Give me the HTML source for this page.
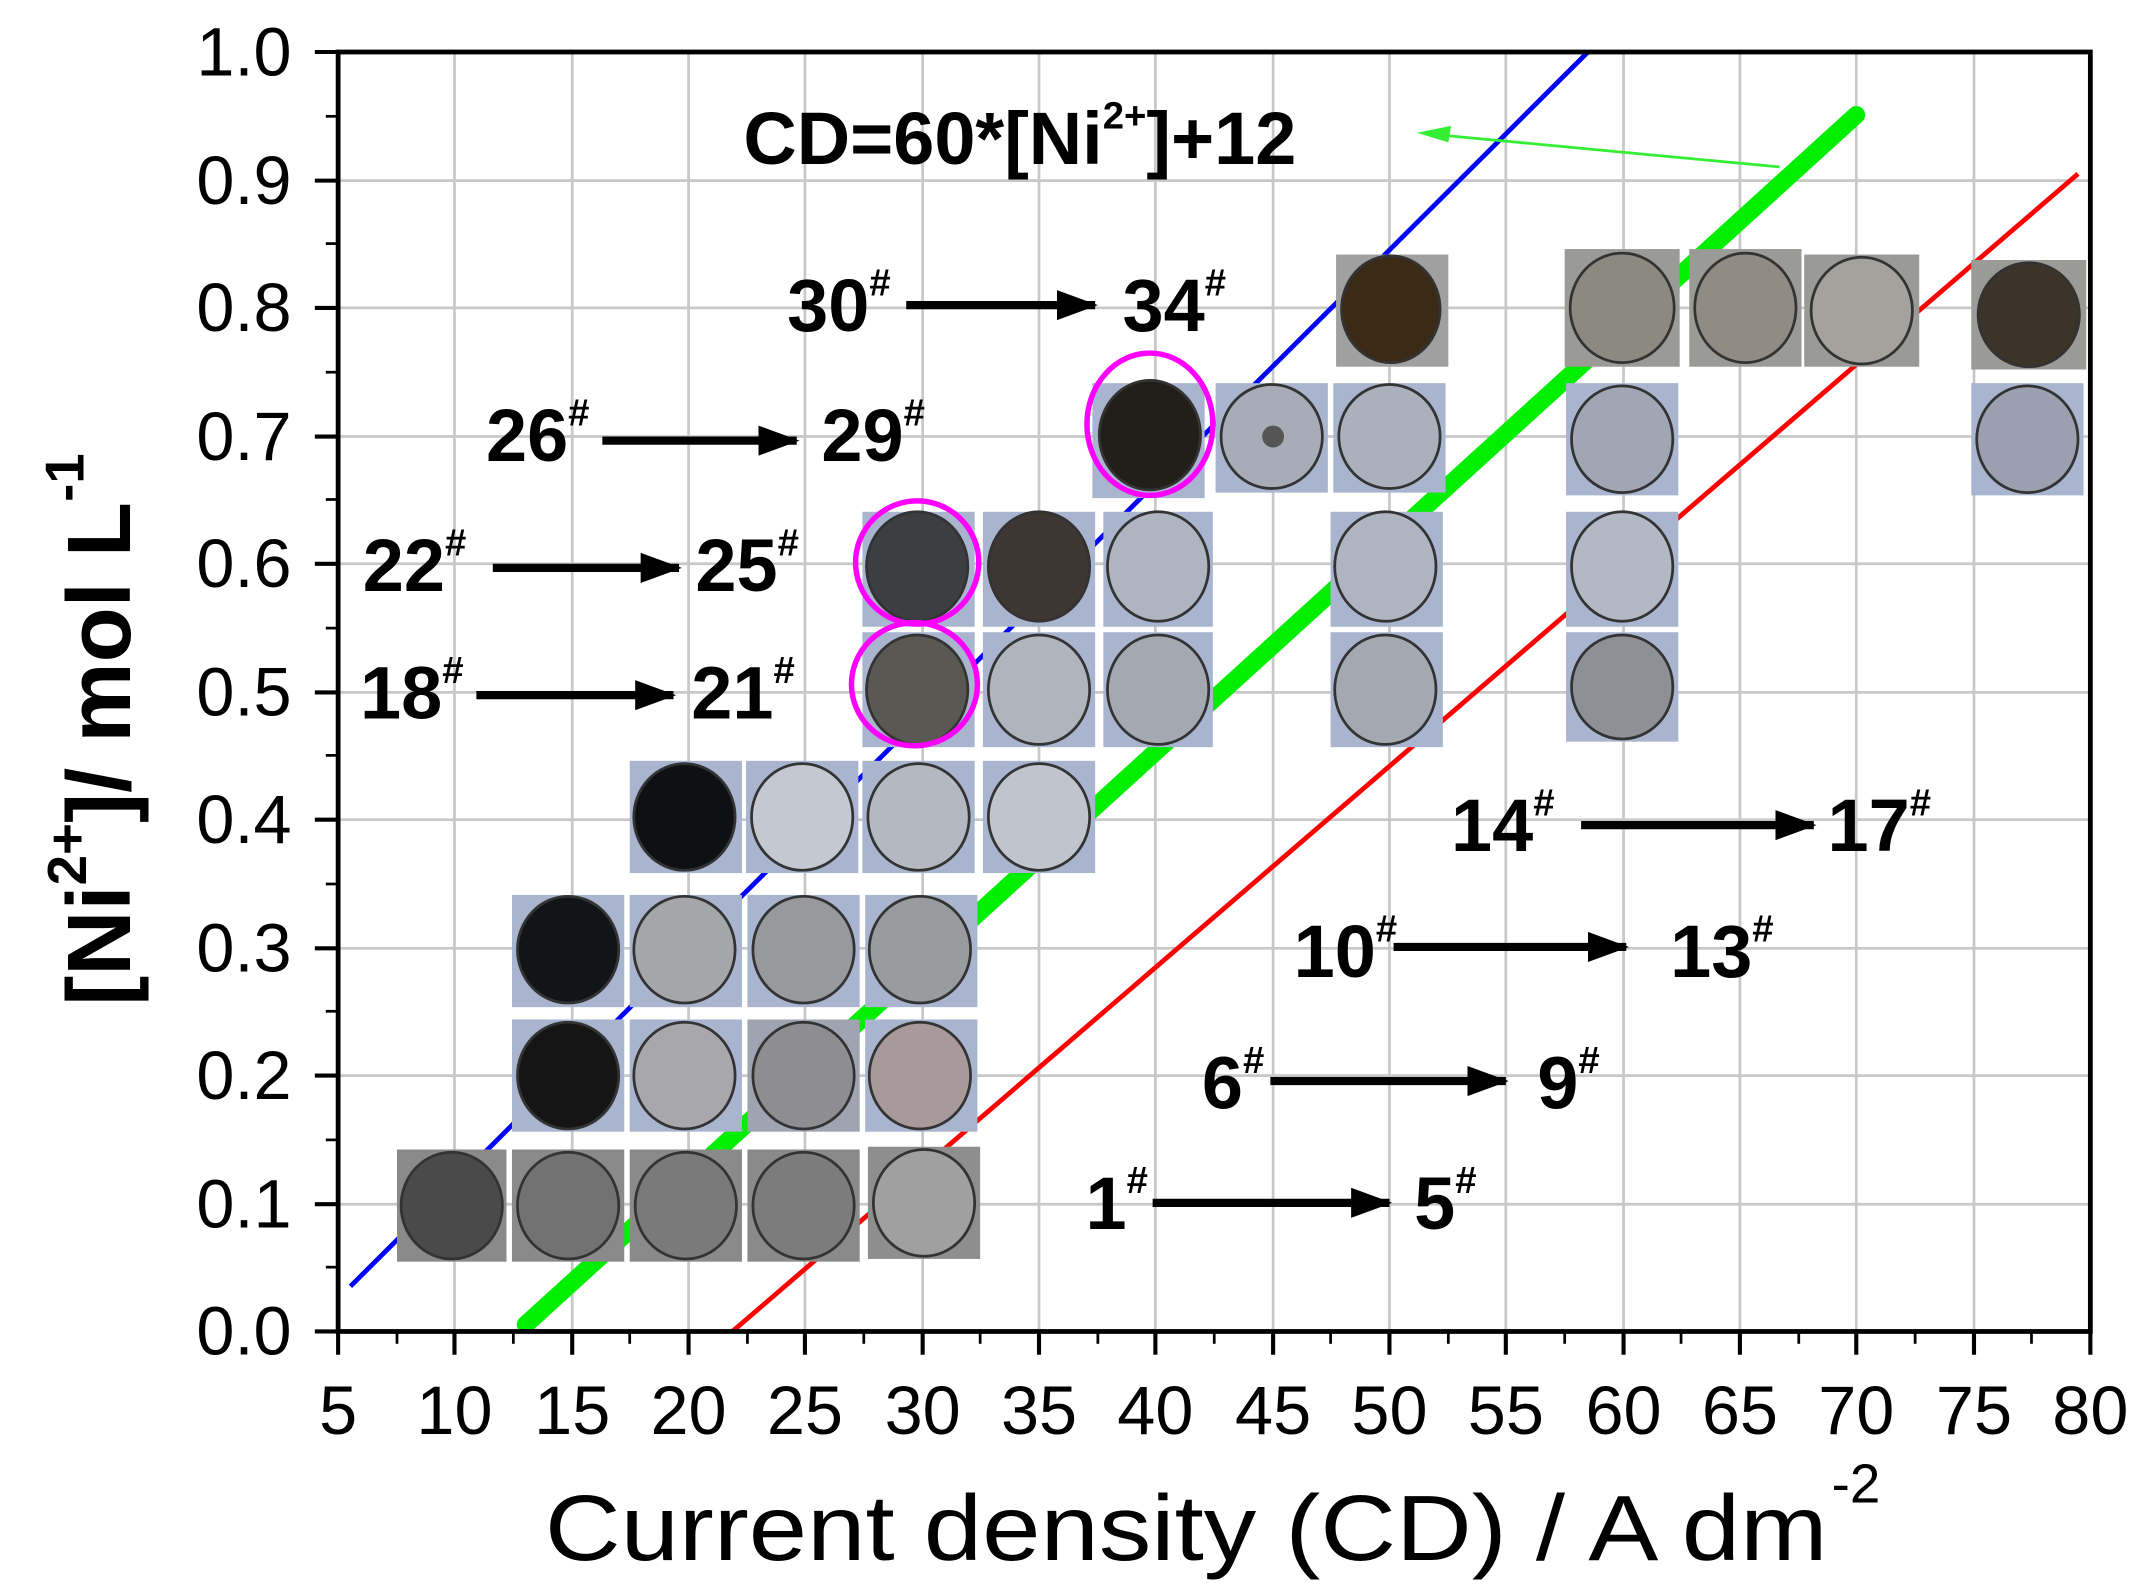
<!DOCTYPE html>
<html><head><meta charset="utf-8"><style>
html,body{margin:0;padding:0;background:#fff;width:2141px;height:1586px;overflow:hidden}
svg{display:block}
text{font-family:"Liberation Sans",sans-serif}
.b{font-weight:bold;font-size:54px}
.s{font-size:28px;font-weight:bold}
</style></head><body>
<svg width="2141" height="1586" viewBox="0 0 1564 1159" preserveAspectRatio="none" xmlns="http://www.w3.org/2000/svg">
<defs>
<marker id="ah" markerWidth="30" markerHeight="22" refX="28" refY="11" orient="auto" markerUnits="userSpaceOnUse" viewBox="0 0 30 22"><path d="M0,0 L30,11 L0,22z" fill="#000"/></marker>
</defs>
<g stroke="#c8c8c8" stroke-width="2">
<line x1="332" y1="38" x2="332" y2="973"/><line x1="418" y1="38" x2="418" y2="973"/><line x1="503" y1="38" x2="503" y2="973"/><line x1="588" y1="38" x2="588" y2="973"/><line x1="674" y1="38" x2="674" y2="973"/><line x1="759" y1="38" x2="759" y2="973"/><line x1="844" y1="38" x2="844" y2="973"/><line x1="930" y1="38" x2="930" y2="973"/><line x1="1015" y1="38" x2="1015" y2="973"/><line x1="1100" y1="38" x2="1100" y2="973"/><line x1="1186" y1="38" x2="1186" y2="973"/><line x1="1271" y1="38" x2="1271" y2="973"/><line x1="1356" y1="38" x2="1356" y2="973"/><line x1="1442" y1="38" x2="1442" y2="973"/>
<line x1="247" y1="132" x2="1527" y2="132"/><line x1="247" y1="225" x2="1527" y2="225"/><line x1="247" y1="319" x2="1527" y2="319"/><line x1="247" y1="412" x2="1527" y2="412"/><line x1="247" y1="506" x2="1527" y2="506"/><line x1="247" y1="599" x2="1527" y2="599"/><line x1="247" y1="693" x2="1527" y2="693"/><line x1="247" y1="786" x2="1527" y2="786"/><line x1="247" y1="880" x2="1527" y2="880"/>
</g>
<line x1="256" y1="940" x2="1160" y2="38" stroke="#0000ff" stroke-width="3.5"/>
<line x1="384" y1="968" x2="1356" y2="84" stroke="#00ee00" stroke-width="13" stroke-linecap="round"/>
<line x1="535" y1="973" x2="1518" y2="127" stroke="#ff0000" stroke-width="3.5"/>
<line x1="1300" y1="122" x2="1045" y2="98" stroke="#33ee33" stroke-width="2"/>
<path d="M1035,97 L1060,92 L1058,104z" fill="#33ee33"/>
<g stroke="#333" stroke-width="2">
<rect x="290" y="840" width="80" height="82" fill="#8a8a8a" stroke="none"/><ellipse cx="330" cy="881" rx="37" ry="39" fill="#4a4a4a"/>
<rect x="374" y="840" width="82" height="82" fill="#8a8a8a" stroke="none"/><ellipse cx="415" cy="881" rx="37" ry="39" fill="#727272"/>
<rect x="460" y="840" width="82" height="82" fill="#8a8a8a" stroke="none"/><ellipse cx="501" cy="881" rx="37" ry="39" fill="#7a7a7a"/>
<rect x="546" y="840" width="82" height="82" fill="#8a8a8a" stroke="none"/><ellipse cx="587" cy="881" rx="37" ry="39" fill="#7c7c7c"/>
<rect x="634" y="838" width="82" height="82" fill="#8e8e8e" stroke="none"/><ellipse cx="675" cy="879" rx="37" ry="39" fill="#a0a0a0"/>
<rect x="374" y="745" width="82" height="82" fill="#a9b4cf" stroke="none"/><ellipse cx="415" cy="786" rx="37" ry="39" fill="#151515"/>
<rect x="460" y="745" width="82" height="82" fill="#a9b4cf" stroke="none"/><ellipse cx="500" cy="786" rx="37" ry="39" fill="#a8a8ac"/>
<rect x="546" y="745" width="82" height="82" fill="#a0a4b0" stroke="none"/><ellipse cx="587" cy="786" rx="37" ry="39" fill="#8e8e90"/>
<rect x="632" y="745" width="82" height="82" fill="#a9b4cf" stroke="none"/><ellipse cx="672" cy="786" rx="37" ry="39" fill="#a89a9a"/>
<rect x="374" y="654" width="82" height="82" fill="#a9b4cf" stroke="none"/><ellipse cx="415" cy="694" rx="37" ry="39" fill="#121418"/>
<rect x="460" y="654" width="82" height="82" fill="#a9b4cf" stroke="none"/><ellipse cx="500" cy="694" rx="37" ry="39" fill="#a5a6aa"/>
<rect x="546" y="654" width="82" height="82" fill="#a9b4cf" stroke="none"/><ellipse cx="587" cy="694" rx="37" ry="39" fill="#98999c"/>
<rect x="632" y="654" width="82" height="82" fill="#a9b4cf" stroke="none"/><ellipse cx="672" cy="694" rx="37" ry="39" fill="#9a9b9e"/>
<rect x="460" y="556" width="82" height="82" fill="#a9b4cf" stroke="none"/><ellipse cx="500" cy="597" rx="37" ry="39" fill="#0e1014"/>
<rect x="545" y="556" width="82" height="82" fill="#a9b4cf" stroke="none"/><ellipse cx="586" cy="597" rx="37" ry="39" fill="#c4c8d0"/>
<rect x="630" y="556" width="82" height="82" fill="#a9b4cf" stroke="none"/><ellipse cx="671" cy="597" rx="37" ry="39" fill="#b4b8c0"/>
<rect x="718" y="556" width="82" height="82" fill="#a9b4cf" stroke="none"/><ellipse cx="759" cy="597" rx="37" ry="39" fill="#c0c4cc"/>
<rect x="630" y="462" width="82" height="84" fill="#a9b4cf" stroke="none"/><ellipse cx="670" cy="504" rx="37" ry="40" fill="#5a5852"/>
<rect x="718" y="462" width="82" height="84" fill="#a9b4cf" stroke="none"/><ellipse cx="759" cy="504" rx="37" ry="40" fill="#b0b4bc"/>
<rect x="806" y="462" width="80" height="84" fill="#a9b4cf" stroke="none"/><ellipse cx="846" cy="504" rx="37" ry="40" fill="#a4a8b0"/>
<rect x="972" y="462" width="82" height="84" fill="#a9b4cf" stroke="none"/><ellipse cx="1012" cy="504" rx="37" ry="40" fill="#a4a8b0"/>
<rect x="1144" y="462" width="82" height="80" fill="#a9b4cf" stroke="none"/><ellipse cx="1185" cy="502" rx="37" ry="38" fill="#8e9096"/>
<rect x="630" y="374" width="82" height="84" fill="#a9b4cf" stroke="none"/><ellipse cx="670" cy="414" rx="37" ry="40" fill="#3c3e42"/>
<rect x="718" y="374" width="82" height="84" fill="#a9b4cf" stroke="none"/><ellipse cx="759" cy="414" rx="37" ry="40" fill="#3e3632"/>
<rect x="806" y="374" width="80" height="84" fill="#a9b4cf" stroke="none"/><ellipse cx="846" cy="414" rx="37" ry="40" fill="#aeb4c0"/>
<rect x="972" y="374" width="82" height="84" fill="#a9b4cf" stroke="none"/><ellipse cx="1012" cy="414" rx="37" ry="40" fill="#aeb4c0"/>
<rect x="1144" y="374" width="82" height="84" fill="#a9b4cf" stroke="none"/><ellipse cx="1185" cy="414" rx="37" ry="40" fill="#b2b8c4"/>
<rect x="798" y="280" width="82" height="84" fill="#a9b4cf" stroke="none"/><ellipse cx="840" cy="318" rx="37" ry="40" fill="#221f1a"/>
<rect x="888" y="280" width="82" height="80" fill="#a9b4cf" stroke="none"/><ellipse cx="929" cy="319" rx="37" ry="38" fill="#a8acb6"/><circle cx="930" cy="319" r="8" fill="#555" stroke="none"/>
<rect x="974" y="280" width="82" height="80" fill="#a9b4cf" stroke="none"/><ellipse cx="1015" cy="319" rx="37" ry="38" fill="#aab0bc"/>
<rect x="1144" y="280" width="82" height="82" fill="#a9b4cf" stroke="none"/><ellipse cx="1185" cy="321" rx="37" ry="39" fill="#a0a6b4"/>
<rect x="1440" y="280" width="82" height="82" fill="#a9b4cf" stroke="none"/><ellipse cx="1481" cy="321" rx="37" ry="39" fill="#9aa0b0"/>
<rect x="976" y="186" width="82" height="82" fill="#a0a0a0" stroke="none"/><ellipse cx="1016" cy="226" rx="36" ry="39" fill="#3a2a16"/>
<rect x="1143" y="182" width="84" height="86" fill="#9a9a96" stroke="none"/><ellipse cx="1185" cy="225" rx="38" ry="40" fill="#8c8a80"/>
<rect x="1234" y="182" width="82" height="86" fill="#9a9a96" stroke="none"/><ellipse cx="1275" cy="225" rx="37" ry="40" fill="#908c84"/>
<rect x="1318" y="186" width="84" height="82" fill="#9a9a96" stroke="none"/><ellipse cx="1360" cy="227" rx="37" ry="39" fill="#a4a29c"/>
<rect x="1440" y="190" width="84" height="80" fill="#9a9a96" stroke="none"/><ellipse cx="1482" cy="230" rx="37" ry="38" fill="#3c3428"/>
</g>
<g fill="none" stroke="#ff00ff" stroke-width="4">
<ellipse cx="840" cy="310" rx="46" ry="52"/>
<ellipse cx="670" cy="411" rx="45" ry="45"/>
<ellipse cx="668" cy="500" rx="46" ry="45"/>
</g>
<rect x="247" y="38" width="1280" height="935" fill="none" stroke="#000" stroke-width="3.5"/>
<g stroke="#000" stroke-width="3">
<line x1="247" y1="973" x2="247" y2="990"/><line x1="332" y1="973" x2="332" y2="990"/><line x1="418" y1="973" x2="418" y2="990"/><line x1="503" y1="973" x2="503" y2="990"/><line x1="588" y1="973" x2="588" y2="990"/><line x1="674" y1="973" x2="674" y2="990"/><line x1="759" y1="973" x2="759" y2="990"/><line x1="844" y1="973" x2="844" y2="990"/><line x1="930" y1="973" x2="930" y2="990"/><line x1="1015" y1="973" x2="1015" y2="990"/><line x1="1100" y1="973" x2="1100" y2="990"/><line x1="1186" y1="973" x2="1186" y2="990"/><line x1="1271" y1="973" x2="1271" y2="990"/><line x1="1356" y1="973" x2="1356" y2="990"/><line x1="1442" y1="973" x2="1442" y2="990"/><line x1="1527" y1="973" x2="1527" y2="990"/>
<line x1="230" y1="38" x2="247" y2="38"/><line x1="230" y1="132" x2="247" y2="132"/><line x1="230" y1="225" x2="247" y2="225"/><line x1="230" y1="319" x2="247" y2="319"/><line x1="230" y1="412" x2="247" y2="412"/><line x1="230" y1="506" x2="247" y2="506"/><line x1="230" y1="599" x2="247" y2="599"/><line x1="230" y1="693" x2="247" y2="693"/><line x1="230" y1="786" x2="247" y2="786"/><line x1="230" y1="880" x2="247" y2="880"/><line x1="230" y1="973" x2="247" y2="973"/>
</g>
<g stroke="#000" stroke-width="2">
<line x1="290" y1="973" x2="290" y2="982"/><line x1="375" y1="973" x2="375" y2="982"/><line x1="460" y1="973" x2="460" y2="982"/><line x1="546" y1="973" x2="546" y2="982"/><line x1="631" y1="973" x2="631" y2="982"/><line x1="716" y1="973" x2="716" y2="982"/><line x1="802" y1="973" x2="802" y2="982"/><line x1="887" y1="973" x2="887" y2="982"/><line x1="972" y1="973" x2="972" y2="982"/><line x1="1058" y1="973" x2="1058" y2="982"/><line x1="1143" y1="973" x2="1143" y2="982"/><line x1="1228" y1="973" x2="1228" y2="982"/><line x1="1314" y1="973" x2="1314" y2="982"/><line x1="1399" y1="973" x2="1399" y2="982"/><line x1="1484" y1="973" x2="1484" y2="982"/>
<line x1="238" y1="85" x2="247" y2="85"/><line x1="238" y1="178" x2="247" y2="178"/><line x1="238" y1="272" x2="247" y2="272"/><line x1="238" y1="365" x2="247" y2="365"/><line x1="238" y1="459" x2="247" y2="459"/><line x1="238" y1="552" x2="247" y2="552"/><line x1="238" y1="646" x2="247" y2="646"/><line x1="238" y1="739" x2="247" y2="739"/><line x1="238" y1="833" x2="247" y2="833"/><line x1="238" y1="926" x2="247" y2="926"/>
</g>
<g font-size="50" text-anchor="middle" fill="#000">
<text x="247" y="1048">5</text><text x="332" y="1048">10</text><text x="418" y="1048">15</text><text x="503" y="1048">20</text><text x="588" y="1048">25</text><text x="674" y="1048">30</text><text x="759" y="1048">35</text><text x="844" y="1048">40</text><text x="930" y="1048">45</text><text x="1015" y="1048">50</text><text x="1100" y="1048">55</text><text x="1186" y="1048">60</text><text x="1271" y="1048">65</text><text x="1356" y="1048">70</text><text x="1442" y="1048">75</text><text x="1527" y="1048">80</text>
</g>
<g font-size="50" text-anchor="end" fill="#000">
<text x="213" y="55">1.0</text><text x="213" y="149">0.9</text><text x="213" y="242">0.8</text><text x="213" y="336">0.7</text><text x="213" y="429">0.6</text><text x="213" y="523">0.5</text><text x="213" y="616">0.4</text><text x="213" y="710">0.3</text><text x="213" y="803">0.2</text><text x="213" y="897">0.1</text><text x="213" y="990">0.0</text>
</g>
<text x="398" y="1140" font-size="68" textLength="937" lengthAdjust="spacingAndGlyphs">Current density (CD) / A dm</text>
<text x="1338" y="1098" font-size="40">-2</text>
<text transform="translate(95,735) rotate(-90)" font-size="66" font-weight="bold">[Ni<tspan font-size="40" dy="-32">2+</tspan><tspan dy="32">]/ mol L</tspan><tspan font-size="40" dy="-34">-1</tspan></text>
<text x="543" y="120" class="b">CD=60*[Ni<tspan class="s" dy="-26">2+</tspan><tspan dy="26">]+12</tspan></text>
<g fill="#000">
<text x="575" y="242" class="b">30<tspan class="s" dy="-26">#</tspan></text><line x1="662" y1="223" x2="800" y2="223" stroke="#000" stroke-width="6" marker-end="url(#ah)"/><text x="820" y="242" class="b">34<tspan class="s" dy="-26">#</tspan></text>
<text x="355" y="337" class="b">26<tspan class="s" dy="-26">#</tspan></text><line x1="440" y1="322" x2="582" y2="322" stroke="#000" stroke-width="6" marker-end="url(#ah)"/><text x="600" y="337" class="b">29<tspan class="s" dy="-26">#</tspan></text>
<text x="265" y="432" class="b">22<tspan class="s" dy="-26">#</tspan></text><line x1="360" y1="415" x2="496" y2="415" stroke="#000" stroke-width="6" marker-end="url(#ah)"/><text x="508" y="432" class="b">25<tspan class="s" dy="-26">#</tspan></text>
<text x="263" y="525" class="b">18<tspan class="s" dy="-26">#</tspan></text><line x1="348" y1="508" x2="492" y2="508" stroke="#000" stroke-width="6" marker-end="url(#ah)"/><text x="505" y="525" class="b">21<tspan class="s" dy="-26">#</tspan></text>
<text x="1060" y="622" class="b">14<tspan class="s" dy="-26">#</tspan></text><line x1="1155" y1="603" x2="1325" y2="603" stroke="#000" stroke-width="6" marker-end="url(#ah)"/><text x="1335" y="622" class="b">17<tspan class="s" dy="-26">#</tspan></text>
<text x="945" y="714" class="b">10<tspan class="s" dy="-26">#</tspan></text><line x1="1018" y1="692" x2="1188" y2="692" stroke="#000" stroke-width="6" marker-end="url(#ah)"/><text x="1220" y="714" class="b">13<tspan class="s" dy="-26">#</tspan></text>
<text x="878" y="810" class="b">6<tspan class="s" dy="-26">#</tspan></text><line x1="928" y1="790" x2="1100" y2="790" stroke="#000" stroke-width="6" marker-end="url(#ah)"/><text x="1123" y="810" class="b">9<tspan class="s" dy="-26">#</tspan></text>
<text x="793" y="898" class="b">1<tspan class="s" dy="-26">#</tspan></text><line x1="842" y1="879" x2="1015" y2="879" stroke="#000" stroke-width="6" marker-end="url(#ah)"/><text x="1033" y="898" class="b">5<tspan class="s" dy="-26">#</tspan></text>
</g>
</svg>
</body></html>
